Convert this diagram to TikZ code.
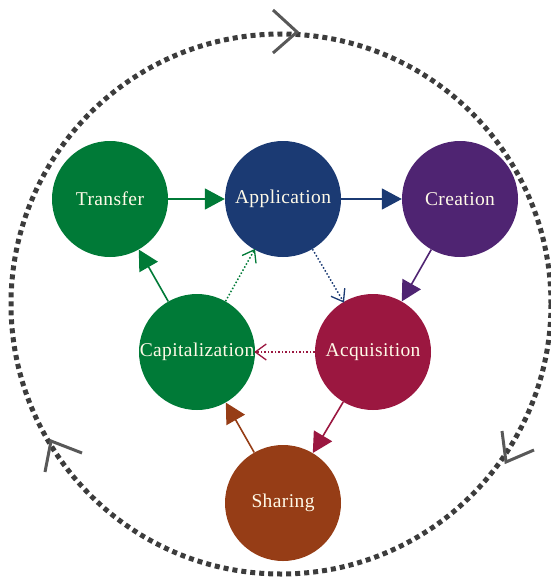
\documentclass[tikz,border=0pt]{standalone}
\usepackage{fontspec}
\newfontfamily\stagefont{Liberation Serif}[LetterSpace=2]
\usetikzlibrary{arrows.meta}
\definecolor{cgreen}{RGB}{0,122,55}
\definecolor{cnavy}{RGB}{27,58,115}
\definecolor{cpurple}{RGB}{79,36,114}
\definecolor{ccrimson}{RGB}{155,23,64}
\definecolor{cbrown}{RGB}{150,61,22}
\definecolor{cgrey}{RGB}{60,60,60}
\definecolor{cchev}{RGB}{88,88,88}
\definecolor{ctext}{RGB}{255,250,232}
\begin{document}
\begin{tikzpicture}[x=1pt,y=-1pt,
  stage/.style={circle,minimum size=116pt,inner sep=0pt,
    font=\stagefont\fontsize{19.5}{22}\selectfont,text=ctext},
  solidarrow/.style={line width=1.6pt,-{Triangle[length=20pt,width=21pt]}},
  dotarrow/.style={line width=1.5pt,dotted,-{Straight Barb[length=11pt,width=16pt,line width=1.3pt,sep=-1pt]}},
  ring/.style={line width=5pt,cgrey,dash pattern=on 5pt off 4pt},
  chev/.style={line width=3pt,cchev,line join=miter}]
\useasboundingbox (0,0) rectangle (551,578);
\draw[ring] (281,304) circle[radius=270];
% chevrons on the ring
\draw[chev] (273,10) -- (297,32) -- (273,53);
\draw[chev] (82,453) -- (51,441) -- (45,472);
\draw[chev] (502,431) -- (506,462) -- (534,450);
% stages
\node[stage,fill=cgreen] (tr) at (110,199) {Transfer};
\node[stage,fill=cnavy] (ap) at (283,199) {Application};
\node[stage,fill=cpurple] (cr) at (460,199) {Creation};
\node[stage,fill=cgreen] (ca) at (197,352) {};
\node[stage,fill=ccrimson] (ac) at (373,352) {Acquisition};
\node[stage,fill=cbrown] (sh) at (283,503) {Sharing};
% connectors
\draw[solidarrow,cgreen] (tr) -- (ap);
\draw[solidarrow,cnavy] (ap) -- (cr);
\draw[solidarrow,cpurple] (cr) -- (ac);
\draw[solidarrow,ccrimson] (ac) -- (sh);
\draw[solidarrow,cbrown] (sh) -- (ca);
\draw[solidarrow,cgreen] (ca) -- (tr);
\draw[dotarrow,cgreen] (ca) -- (ap);
\draw[dotarrow,cnavy] (ap) -- (ac);
\draw[dotarrow,ccrimson] (ac) -- (ca);
% capitalization label on top of the arrow tip
\node[stage] (calabel) at (ca) {Capitalization};
\end{tikzpicture}
\end{document}
